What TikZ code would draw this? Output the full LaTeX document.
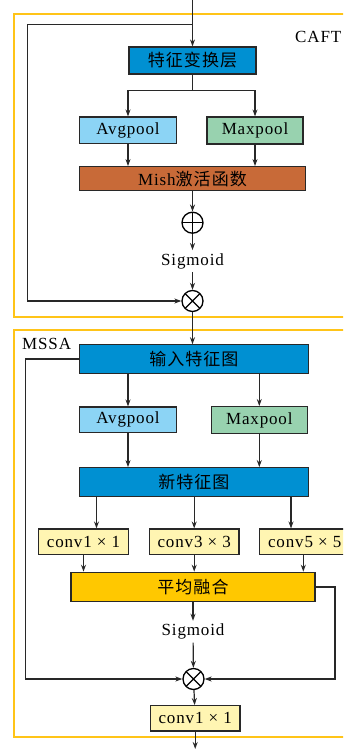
\documentclass[tikz,border=0pt]{standalone}
\usepackage{fontspec}
\setmainfont{Liberation Serif}[LetterSpace=5]
\newfontfamily\cjk{Noto Sans CJK SC}[LetterSpace=6]
\usetikzlibrary{positioning, arrows.meta}

\definecolor{featblue}{RGB}{0,144,210}
\definecolor{avgblue}{RGB}{140,212,245}
\definecolor{maxgreen}{RGB}{152,210,175}
\definecolor{mishbrown}{RGB}{200,106,56}
\definecolor{convyellow}{RGB}{255,245,178}
\definecolor{fusegold}{RGB}{255,200,0}
\definecolor{frameyellow}{RGB}{255,196,24}
\definecolor{linegrey}{RGB}{40,40,40}

\begin{document}
\begin{tikzpicture}[
  x=1pt, y=-1pt,
  >={Stealth[length=7pt,width=5pt]},
  arr/.style={->, line width=1.2pt, draw=linegrey},
  ln/.style={line width=1.2pt, draw=linegrey},
  blk/.style={draw=linegrey, line width=1.2pt, inner sep=0pt, font=\fontsize{17}{19}\selectfont},
  frame/.style={draw=frameyellow, line width=1.4pt},
  opnode/.style={circle, draw=black, line width=1.3pt, minimum size=21pt, inner sep=0pt},
  oplus/.style={opnode, path picture={
      \draw[line width=1.1pt] (path picture bounding box.north) -- (path picture bounding box.south)
        (path picture bounding box.west) -- (path picture bounding box.east);}},
  otimes/.style={opnode, path picture={
      \draw[line width=1.1pt] (path picture bounding box.north west) -- (path picture bounding box.south east)
        (path picture bounding box.north east) -- (path picture bounding box.south west);}},
  txt/.style={inner sep=3pt, font=\fontsize{17}{19}\selectfont}
]
\useasboundingbox (0,0) rectangle (343,749);
\clip (0,0) rectangle (343,749);

% --- Frames ---
\draw[frame] (14,14) rectangle (365,317);
\draw[frame] (14,330) rectangle (365,737);
\node[txt, anchor=west] (caft) at (292,37) {CAFT};
\node[txt, anchor=west] (mssa) at (19,344) {MSSA};

% --- CAFT nodes ---
\coordinate (in) at (192.5,-2);
\coordinate (split) at (192.5,24.3);
\node[blk, fill=featblue, minimum width=127pt, minimum height=27pt] (tf) at (192.5,60.5) {\cjk 特征变换层};
\node[blk, fill=avgblue, minimum width=97pt, minimum height=26.5pt] (avg1) at (128,130.3) {Avgpool};
\node[blk, fill=maxgreen, minimum width=96pt, minimum height=27pt] (max1) at (255,130.5) {Maxpool};
\node[blk, fill=mishbrown, minimum width=226pt, minimum height=24pt] (mish) at (192.5,178.7) {Mish{\cjk 激活函数}};
\node[oplus] (plus) at (192.5,222.7) {};
\node[txt] (sig1) at (192.5,261) {Sigmoid};
\node[otimes] (mul1) at (192.5,301) {};

% --- MSSA nodes ---
\node[blk, fill=featblue, minimum width=229pt, minimum height=28.3pt] (inmap) at (193.8,359) {\cjk 输入特征图};
\node[blk, fill=avgblue, minimum width=97pt, minimum height=25.3pt] (avg2) at (128,419.7) {Avgpool};
\node[blk, fill=maxgreen, minimum width=96pt, minimum height=26.7pt] (max2) at (259.3,420) {Maxpool};
\node[blk, fill=featblue, minimum width=229pt, minimum height=29pt] (newmap) at (193.8,482.2) {\cjk 新特征图};
\node[blk, fill=convyellow, minimum width=89.6pt, minimum height=25.3pt] (c1) at (83.5,541.7) {conv1 × 1};
\node[blk, fill=convyellow, minimum width=89.6pt, minimum height=25.3pt] (c3) at (194.2,541.7) {conv3 × 3};
\node[blk, fill=convyellow, minimum width=90pt, minimum height=25.3pt] (c5) at (304.7,541.7) {conv5 × 5};
\node[blk, fill=fusegold, minimum width=244pt, minimum height=29.4pt] (fuse) at (193,587) {\cjk 平均融合};
\node[txt] (sig2) at (193,631.7) {Sigmoid};
\node[otimes] (mul2) at (193.5,679) {};
\node[blk, fill=convyellow, minimum width=89.7pt, minimum height=25.3pt] (out) at (195.2,718.3) {conv1 × 1};
\coordinate (end) at (195.2,749);

% --- CAFT edges ---
\draw[arr] (in) -- (tf.north);
\draw[arr] (split) -| (27.3,301) -- (mul1.west);
\draw[arr] (tf.south) -- ++(0,16) -| (avg1.north);
\draw[arr] (tf.south) ++(0,16) -| (max1.north);
\draw[arr] (avg1.south) -- (avg1.south |- mish.north);
\draw[arr] (max1.south) -- (max1.south |- mish.north);
\draw[arr] (mish) -- (plus);
\draw[arr] (plus) -- (sig1);
\draw[arr] (sig1) -- (mul1);
\draw[arr] (mul1) -- (inmap.north -| mul1);

% --- MSSA edges ---
\draw[arr] (inmap.west) -- ++(-53,0) |- (mul2.west);
\draw[arr] (inmap.south -| avg2.north) -- (avg2.north);
\draw[arr] (inmap.south -| max2.north) -- (max2.north);
\draw[arr] (avg2.south) -- (avg2.south |- newmap.north);
\draw[arr] (max2.south) -- (max2.south |- newmap.north);
\draw[arr] ([xshift=13pt]c1.north |- newmap.south) -- ([xshift=13pt]c1.north);
\draw[arr] (c3.north |- newmap.south) -- (c3.north);
\draw[arr] ([xshift=-13.7pt]c5.north |- newmap.south) -- ([xshift=-13.7pt]c5.north);
\draw[arr] (c1.south) -- (c1.south |- fuse.north);
\draw[arr] (c3.south) -- (c3.south |- fuse.north);
\draw[arr] ([xshift=-1.4pt]c5.south) -- ([xshift=-1.4pt]c5.south |- fuse.north);
\draw[arr] (fuse) -- (sig2);
\draw[arr] (sig2) -- (mul2);
\draw[arr] (fuse.east) -- ++(19.3,0) |- (mul2.east);
\draw[arr] (mul2) -- (out);
\draw[arr] (out) -- (end);

\end{tikzpicture}
\end{document}
